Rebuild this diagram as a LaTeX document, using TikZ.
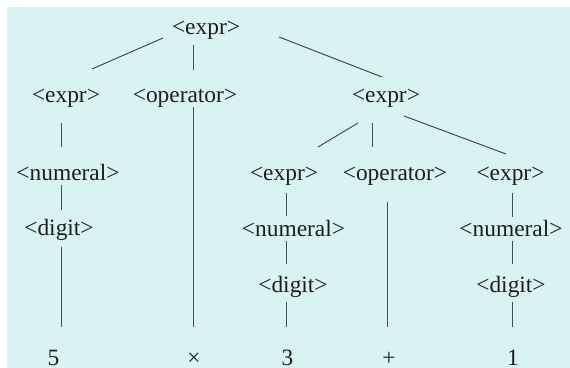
\documentclass[tikz,border=0pt]{standalone}
\usepackage{fontspec}
\setmainfont{Liberation Serif}
\definecolor{panel}{RGB}{216,243,241}
\definecolor{ink}{RGB}{30,30,30}

\begin{document}
\begin{tikzpicture}[x=0.5pt,y=-0.5pt,
  sym/.style={anchor=base,inner sep=0pt,text=ink,font=\fontsize{11.7}{14}\selectfont},
  link/.style={line width=0.5pt,draw=ink!80}
]
  \useasboundingbox (0,0) rectangle (570,368);
  \fill[panel] (7,7) rectangle (570,368);

% ---------------- nonterminals ----------------
  \node[sym] (expr)   at (206,34.5)  {<expr>};
  \node[sym] (exprL)  at (66,103)    {<expr>};
  \node[sym] (opL)    at (185,103)   {<operator>};
  \node[sym] (exprR)  at (386,103)   {<expr>};
  \node[sym] (numL)   at (68,181)    {<numeral>};
  \node[sym] (digL)   at (59,236)    {<digit>};
  \node[sym] (exprRL) at (284,181)   {<expr>};
  \node[sym] (opR)    at (395,181)   {<operator>};
  \node[sym] (exprRR) at (510.5,181) {<expr>};
  \node[sym] (numRL)  at (293.5,237) {<numeral>};
  \node[sym] (digRL)  at (293,293)   {<digit>};
  \node[sym] (numRR)  at (511,237)   {<numeral>};
  \node[sym] (digRR)  at (511,293)   {<digit>};

% ---------------- leaves ----------------
  \node[sym] (five)  at (53.5,366) {5};
  \node[sym] (times) at (194,366)  {×};
  \node[sym] (three) at (287.5,366) {3};
  \node[sym] (plus)  at (389,366)  {+};
  \node[sym] (one)   at (513,366)  {1};

  \draw[link] ([shift={(-43,3.5)}]expr.base) -- ([shift={(26,-34)}]exprL.base);
  \draw[link] ([shift={(-12,10.5)}]expr.base) -- ([shift={(9,-33)}]opL.base);
  \draw[link] ([shift={(73,2.5)}]expr.base) -- ([shift={(-4,-26)}]exprR.base);
  \draw[link] ([shift={(-4.5,20)}]exprL.base) -- ([shift={(-6.5,-34)}]numL.base);
  \draw[link] ([shift={(-6.5,4)}]numL.base) -- ([shift={(2.5,-26)}]digL.base);
  \draw[link] ([shift={(2.5,11)}]digL.base) -- ([shift={(8,-39)}]five.base);
  \draw[link] ([shift={(9,4)}]opL.base) -- ([shift={(0,-39)}]times.base);
  \draw[link] ([shift={(-28,20)}]exprR.base) -- ([shift={(34,-34)}]exprRL.base);
  \draw[link] ([shift={(-13,20)}]exprR.base) -- ([shift={(-22,-34)}]opR.base);
  \draw[link] ([shift={(18,13)}]exprR.base) -- ([shift={(-4.5,-27)}]exprRR.base);
  \draw[link] ([shift={(3,12)}]exprRL.base) -- ([shift={(-6.5,-21)}]numRL.base);
  \draw[link] ([shift={(-6.5,4)}]numRL.base) -- ([shift={(-6,-29)}]digRL.base);
  \draw[link] ([shift={(-6,9)}]digRL.base) -- ([shift={(-0.5,-39)}]three.base);
  \draw[link] ([shift={(-7,21)}]opR.base) -- ([shift={(-1,-39)}]plus.base);
  \draw[link] ([shift={(2.5,12)}]exprRR.base) -- ([shift={(2,-20)}]numRR.base);
  \draw[link] ([shift={(2,4)}]numRR.base) -- ([shift={(2,-29)}]digRR.base);
  \draw[link] ([shift={(2,9)}]digRR.base) -- ([shift={(0,-39)}]one.base);
\end{tikzpicture}
\end{document}
